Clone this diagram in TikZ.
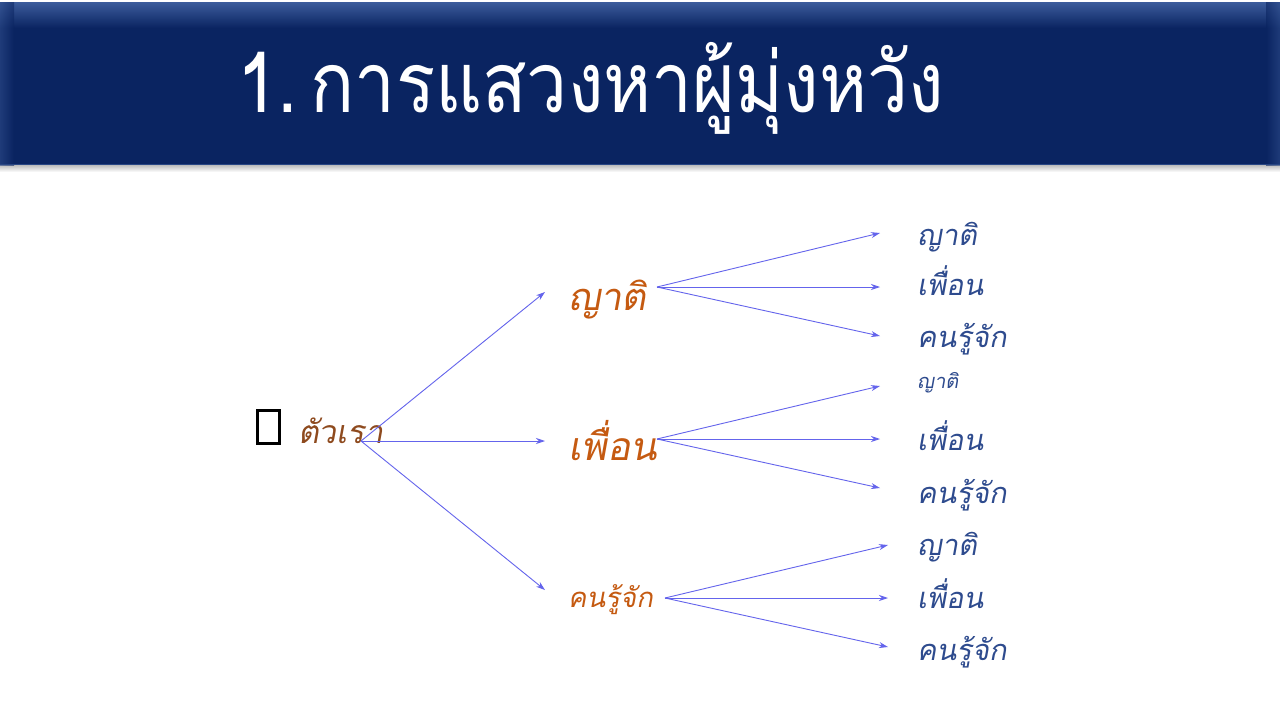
\documentclass[tikz,border=0pt]{standalone}
\usepackage{fontspec}
\usetikzlibrary{arrows.meta}
\newfontfamily\thtitle[Script=Thai, FakeStretch=0.87]{Loma}
\newfontfamily\thit[Script=Thai, FakeSlant=0.18]{Loma}
\definecolor{barblue}{HTML}{0A2461}
\definecolor{barlight}{HTML}{3C5C9C}
\definecolor{orangeT}{HTML}{C55A11}
\definecolor{brownT}{HTML}{8E4A1E}
\definecolor{navyT}{HTML}{2E4B8E}
\definecolor{arrowC}{HTML}{6464EC}
\tikzset{
  lbl/.style={inner sep=0pt, anchor=base west, font=\thit},
  lvlA/.style={lbl, text=brownT},
  lvlB/.style={lbl, text=orangeT},
  lvlC/.style={lbl, text=navyT},
  conn/.style={draw=arrowC, line width=0.9pt, -{Stealth[length=9pt,width=6pt]}},
}
\begin{document}
\begin{tikzpicture}[x=1pt,y=-1pt]
\useasboundingbox (0,0) rectangle (1280,720);
\fill[white] (0,0) rectangle (1280,720);
% shadow below bar
\shade[top color=black!30, bottom color=white] (0,164) rectangle (1280,172);
% title bar
\fill[barblue] (0,2) rectangle (1280,165);
\shade[top color=barlight, bottom color=barblue] (0,2) rectangle (1280,28);
\shade[left color=barlight!70!barblue, right color=barblue, opacity=0.6] (0,2) rectangle (14,165);
\shade[right color=barlight!70!barblue, left color=barblue, opacity=0.6] (1266,2) rectangle (1280,165);
\draw[barlight!60!barblue, line width=1pt] (0,164) -- (1280,164);
\node[inner sep=0pt, anchor=base west, text=white, font=\thtitle\fontsize{84}{90}\selectfont] (title) at (237,112) {1.\kern-12pt\ การแสวงหาผู้มุ่งหวัง};
% root
\node[draw=black, line width=3pt, minimum width=22pt, minimum height=33pt, inner sep=0pt, anchor=north west] (bullet) at (256,409) {};
\node[lvlA, font=\thit\fontsize{32}{36}\selectfont] (root) at (298,443) {ตัวเรา};
\coordinate (r0) at (361,441);
% middle level
\node[lvlB, font=\thit\fontsize{38}{42}\selectfont] (m1) at (568,310) {ญาติ};
\node[lvlB, font=\thit\fontsize{39}{43}\selectfont] (m2) at (568,460) {เพื่อน};
\node[lvlB, font=\thit\fontsize{27.5}{31}\selectfont] (m3) at (568,607) {คนรู้จัก};
\coordinate (t1) at (545,292);
\coordinate (t2) at (545,441);
\coordinate (t3) at (545,590);
\draw[conn] (r0) -- (t1);
\draw[conn] (r0) -- (t2);
\draw[conn] (r0) -- (t3);
% right level
\node[lvlC, font=\thit\fontsize{29}{33}\selectfont] (a1) at (917,245) {ญาติ};
\node[lvlC, font=\thit\fontsize{29}{33}\selectfont] (a2) at (917,295) {เพื่อน};
\node[lvlC, font=\thit\fontsize{29}{33}\selectfont] (a3) at (917,347) {คนรู้จัก};
\node[lvlC, font=\thit\fontsize{20}{24}\selectfont] (b1) at (917,388) {ญาติ};
\node[lvlC, font=\thit\fontsize{29}{33}\selectfont] (b2) at (917,450) {เพื่อน};
\node[lvlC, font=\thit\fontsize{29}{33}\selectfont] (b3) at (917,503) {คนรู้จัก};
\node[lvlC, font=\thit\fontsize{29}{33}\selectfont] (c1) at (917,555) {ญาติ};
\node[lvlC, font=\thit\fontsize{29}{33}\selectfont] (c2) at (917,608) {เพื่อน};
\node[lvlC, font=\thit\fontsize{29}{33}\selectfont] (c3) at (917,660) {คนรู้จัก};
% origins and tips
\coordinate (o1) at (657,287);
\coordinate (o2) at (657,439);
\coordinate (o3) at (665,598);
\coordinate (a1t) at (880,233);
\coordinate (a2t) at (880,287);
\coordinate (a3t) at (880,336);
\coordinate (b1t) at (880,386);
\coordinate (b2t) at (880,439);
\coordinate (b3t) at (880,488);
\coordinate (c1t) at (888,545);
\coordinate (c2t) at (888,598);
\coordinate (c3t) at (888,647);
\foreach \s in {a1t,a2t,a3t} \draw[conn] (o1) -- (\s);
\foreach \s in {b1t,b2t,b3t} \draw[conn] (o2) -- (\s);
\foreach \s in {c1t,c2t,c3t} \draw[conn] (o3) -- (\s);
\end{tikzpicture}
\end{document}
